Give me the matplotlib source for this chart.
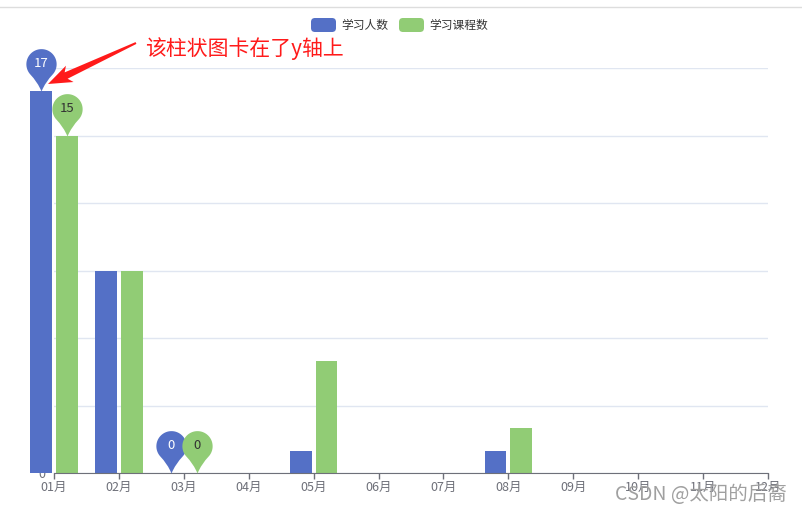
import numpy as np
import matplotlib
matplotlib.use('Agg')
import matplotlib.pyplot as plt
import matplotlib.transforms as mtransforms
from matplotlib.path import Path
from matplotlib.patches import FancyBboxPatch, Polygon
from matplotlib.lines import Line2D

plt.rcParams['font.family'] = ['Noto Sans CJK SC', 'DejaVu Sans']

months = ['01月', '02月', '03月', '04月', '05月', '06月',
          '07月', '08月', '09月', '10月', '11月', '12月']
students = [17, 9, 0, 0, 1, 0, 0, 1, 0, 0, 0, 0]
courses = [15, 9, 0, 0, 5, 0, 0, 2, 0, 0, 0, 0]
series_names = ['学习人数', '学习课程数']
colors = ['#5470c6', '#91cc75']
pin_text = ['white', '#333333']
yticks = [0, 3, 6, 9, 12, 15, 18]

W, H = 802, 514
fig = plt.figure(figsize=(W / 100, H / 100), dpi=100)
# pixel transform (origin top-left like the screenshot)
px = mtransforms.Affine2D().scale(1, -1).translate(0, H).scale(1 / 100) + fig.dpi_scale_trans

ax = fig.add_axes([54 / W, 41 / H, 714 / W, 405 / H])
x = np.arange(len(months))
bw = 0.335
off = 0.2
ax.bar(x - off, students, bw, color=colors[0], zorder=2, clip_on=False)
ax.bar(x + off, courses, bw, color=colors[1], zorder=2, clip_on=False)

ax.set_xlim(0, len(months) - 1)
ax.set_ylim(0, 18)
ax.set_xticks(x)
ax.set_xticklabels(months)
ax.set_yticks(yticks)
ax.tick_params(axis='x', colors='#6E7079', labelsize=9, length=4, width=1, pad=2)
ax.tick_params(axis='y', colors='#6E7079', labelsize=9, length=0, pad=6)
ax.yaxis.grid(True, color='#E0E6F1', lw=1)
ax.set_axisbelow(True)
for s in ['left', 'top', 'right']:
    ax.spines[s].set_visible(False)
ax.spines['bottom'].set_color('#6E7079')

# pin marker (tip at origin)
r, c = 1.0, 1.8
ang = np.linspace(np.deg2rad(220), np.deg2rad(-40), 60)
arc = np.column_stack([r * np.cos(ang), c + r * np.sin(ang)])
verts = [(0, 0), (-0.25, 0.62), tuple(arc[0])] + [tuple(p) for p in arc[1:]] + \
        [(0.25, 0.62), (0, 0), (0, 0)]
codes = [Path.MOVETO, Path.CURVE3, Path.CURVE3] + [Path.LINETO] * (len(arc) - 1) + \
        [Path.CURVE3, Path.CURVE3, Path.CLOSEPOLY]
pin = Path(verts, codes)
ms = 61
center_pts = c / (c + r) * ms / 2

for k, vals in enumerate([students, courses]):
    xs = x + (off if k else -off)
    for idx in [int(np.argmax(vals)), int(np.argmin(vals))]:
        ax.plot(xs[idx], vals[idx], marker=pin, markersize=ms, color=colors[k],
                markeredgewidth=0, clip_on=False, zorder=4)
        ax.annotate(str(vals[idx]), (xs[idx], vals[idx]), xytext=(0, center_pts),
                    textcoords='offset points', ha='center', va='center',
                    color=pin_text[k], fontsize=9.5, zorder=5, annotation_clip=False)

# legend
lx = [311, 399]
tx = [341, 429]
for k in range(2):
    fig.patches.append(FancyBboxPatch((lx[k], 18), 25, 14, boxstyle='round,pad=0,rounding_size=4',
                                      transform=px, color=colors[k], lw=0))
    fig.text(tx[k], 25, series_names[k], transform=px, fontsize=8.5, color='#333333',
             ha='left', va='center')

# top border line
fig.lines.append(Line2D([0, W], [7, 7], transform=px, color='#dddddd', lw=1))

# red annotation
fig.text(145, 49, '该柱状图卡在了y轴上', transform=px, fontsize=15, color='#ff1a1a',
         ha='left', va='center')
S = np.array([136.0, 43.0])
T = np.array([48.0, 84.0])
d = (T - S) / np.linalg.norm(T - S)
n = np.array([-d[1], d[0]])
hb = T - d * 20
barb = T - d * 24
arrow = [S + n * 1, hb + n * 3.5, barb + n * 9, T, barb - n * 9, hb - n * 3.5, S - n * 1]
fig.patches.append(Polygon(arrow, closed=True, transform=px, color='#ff1a1a', lw=0))

# watermark
fig.text(787, 495, 'CSDN @太阳的后裔', transform=px, fontsize=14, color='#a0a0a0',
         ha='right', va='center')

fig.savefig('out.png', dpi=100)
